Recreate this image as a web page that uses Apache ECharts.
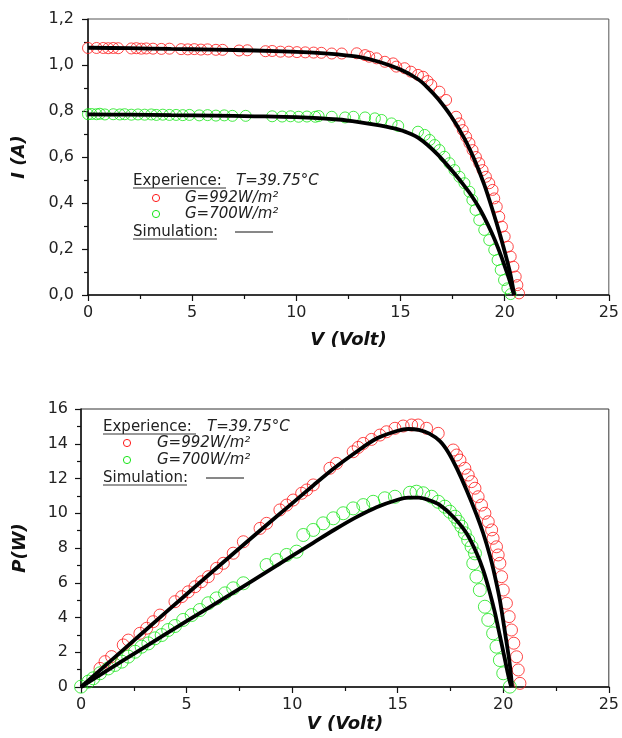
<!DOCTYPE html>
<html>
<head>
<meta charset="utf-8">
<script src="https://cdn.jsdelivr.net/npm/echarts@6/dist/echarts.min.js"></script>
<style>
html,body{margin:0;padding:0;background:#fff;}
#c{width:622px;height:738px;}
</style>
</head>
<body>
<div id="c"></div>
<script>
// ---------- I-V chart data ----------
const xTicks = [0, 5, 10, 15, 20, 25];
const ivSimRedV = [0, 2, 4, 6, 8, 10, 11, 12, 13, 14, 15, 15.84, 16.3, 16.8, 17.43, 18.07, 18.54, 19.02, 19.4, 19.8, 20.1, 20.3, 20.46];
const ivSimRedI = [1.075, 1.073, 1.070, 1.067, 1.063, 1.057, 1.053, 1.046, 1.035, 1.013, 0.980, 0.938, 0.902, 0.853, 0.777, 0.680, 0.590, 0.480, 0.375, 0.255, 0.155, 0.080, 0.0];
const ivSimGreenV = [0, 2, 4, 6, 8, 10, 12, 13, 14, 15, 15.5, 15.84, 16.3, 16.79, 17.2, 17.59, 18.0, 18.38, 18.8, 19.2, 19.55, 19.85, 20.1, 20.3, 20.45];
const ivSimGreenI = [0.785, 0.784, 0.782, 0.780, 0.777, 0.773, 0.763, 0.752, 0.737, 0.717, 0.700, 0.684, 0.652, 0.610, 0.569, 0.528, 0.482, 0.436, 0.375, 0.305, 0.235, 0.165, 0.100, 0.045, 0.0];

const ivExpRedV = [0, 0.41, 0.73, 0.97, 1.21, 1.45, 2.08, 2.32, 2.56, 2.80, 3.12, 3.52, 3.91, 4.47, 4.79, 5.10, 5.42, 5.74, 6.14, 6.46, 7.25, 7.65, 8.52, 8.84, 9.24, 9.64, 10.03, 10.43, 10.83, 11.2, 11.7, 12.18, 12.9, 13.3, 13.5, 13.85, 14.25, 14.65, 14.8, 15.2, 15.5, 15.84, 16.08, 16.3, 16.48, 16.87, 17.19, 17.67, 17.83, 17.99, 18.15, 18.31, 18.46, 18.62, 18.78, 18.94, 19.1, 19.26, 19.42, 19.5, 19.62, 19.74, 19.87, 20.0, 20.15, 20.29, 20.42, 20.53, 20.61, 20.69];
const ivExpRedI = [1.074, 1.074, 1.074, 1.073, 1.074, 1.073, 1.072, 1.073, 1.071, 1.072, 1.071, 1.070, 1.071, 1.069, 1.068, 1.069, 1.067, 1.068, 1.066, 1.066, 1.063, 1.064, 1.060, 1.061, 1.058, 1.058, 1.056, 1.055, 1.054, 1.053, 1.050, 1.050, 1.051, 1.043, 1.036, 1.029, 1.014, 1.007, 0.993, 0.986, 0.971, 0.957, 0.949, 0.930, 0.913, 0.884, 0.848, 0.775, 0.746, 0.717, 0.688, 0.660, 0.630, 0.600, 0.573, 0.543, 0.514, 0.486, 0.457, 0.420, 0.384, 0.340, 0.297, 0.254, 0.210, 0.167, 0.123, 0.080, 0.043, 0.007];
const ivExpGreenV = [0, 0.17, 0.41, 0.57, 0.81, 1.21, 1.53, 1.76, 2.08, 2.40, 2.72, 3.04, 3.28, 3.59, 3.91, 4.23, 4.55, 4.87, 5.34, 5.74, 6.14, 6.54, 6.93, 7.57, 8.84, 9.32, 9.72, 10.11, 10.51, 10.91, 11.07, 11.7, 12.34, 12.74, 13.3, 13.77, 14.09, 14.57, 14.89, 15.84, 16.16, 16.4, 16.64, 16.87, 17.11, 17.35, 17.59, 17.83, 18.07, 18.31, 18.45, 18.6, 18.78, 19.02, 19.26, 19.5, 19.66, 19.81, 19.97, 20.13, 20.29];
const ivExpGreenI = [0.786, 0.787, 0.786, 0.788, 0.785, 0.786, 0.785, 0.786, 0.784, 0.785, 0.784, 0.785, 0.783, 0.784, 0.783, 0.783, 0.782, 0.783, 0.781, 0.782, 0.780, 0.781, 0.779, 0.779, 0.777, 0.776, 0.777, 0.775, 0.776, 0.775, 0.778, 0.775, 0.772, 0.775, 0.772, 0.768, 0.761, 0.746, 0.735, 0.710, 0.696, 0.674, 0.652, 0.630, 0.601, 0.573, 0.543, 0.514, 0.486, 0.449, 0.413, 0.370, 0.326, 0.283, 0.239, 0.196, 0.152, 0.109, 0.065, 0.029, 0.004];

// ---------- P-V chart data ----------
const pvSimRedV = [0, 2, 4, 6, 8, 10, 11, 12, 13, 14, 15, 15.5, 16, 16.5, 17.0, 17.4, 17.8, 18.26, 18.74, 19.05, 19.37, 19.6, 19.84, 20.1, 20.3, 20.42];
const pvSimRedP = [0, 2.14, 4.28, 6.40, 8.50, 10.57, 11.6, 12.6, 13.5, 14.3, 14.75, 14.85, 14.8, 14.58, 14.15, 13.5, 12.58, 11.34, 9.9, 8.85, 7.55, 6.4, 5.0, 3.0, 1.4, 0];
const pvSimGreenV = [0, 2, 4, 6, 8, 10, 11, 12, 13, 14, 15, 15.5, 16, 16.5, 17.0, 17.63, 18.26, 18.74, 19.05, 19.35, 19.6, 19.84, 20.05, 20.25, 20.38];
const pvSimGreenP = [0, 1.53, 3.04, 4.53, 6.02, 7.55, 8.3, 9.05, 9.75, 10.35, 10.78, 10.9, 10.9, 10.75, 10.47, 9.8, 8.85, 7.7, 6.73, 5.5, 4.3, 2.95, 1.75, 0.6, 0];

const pvExpRedV = [0.90, 1.14, 1.45, 2.0, 2.24, 2.79, 3.11, 3.42, 3.74, 4.45, 4.77, 5.08, 5.40, 5.71, 6.03, 6.42, 6.74, 7.21, 7.69, 8.48, 8.79, 9.42, 9.74, 10.05, 10.45, 10.69, 11.0, 11.79, 12.1, 12.89, 13.13, 13.37, 13.76, 14.16, 14.47, 14.87, 15.26, 15.66, 15.97, 16.37, 16.92, 17.63, 17.79, 17.95, 18.18, 18.34, 18.5, 18.66, 18.81, 18.97, 19.13, 19.29, 19.45, 19.52, 19.68, 19.76, 19.84, 19.92, 20.0, 20.15, 20.28, 20.39, 20.5, 20.63, 20.71, 20.79];
const pvExpRedP = [1.07, 1.46, 1.75, 2.42, 2.70, 3.09, 3.38, 3.76, 4.14, 4.91, 5.20, 5.48, 5.77, 6.06, 6.35, 6.83, 7.12, 7.70, 8.36, 9.13, 9.42, 10.19, 10.47, 10.76, 11.15, 11.34, 11.63, 12.59, 12.87, 13.54, 13.79, 14.02, 14.25, 14.5, 14.69, 14.89, 15.02, 15.08, 15.08, 14.89, 14.6, 13.64, 13.35, 13.06, 12.59, 12.2, 11.82, 11.44, 10.95, 10.47, 10.0, 9.51, 9.04, 8.56, 8.07, 7.6, 7.12, 6.35, 5.58, 4.82, 4.05, 3.28, 2.52, 1.74, 0.98, 0.21];
const pvExpGreenV = [0, 0.35, 0.58, 0.9, 1.29, 1.61, 1.93, 2.24, 2.56, 2.87, 3.19, 3.5, 3.82, 4.13, 4.45, 4.84, 5.24, 5.63, 6.03, 6.42, 6.82, 7.21, 7.69, 8.79, 9.26, 9.74, 10.21, 10.53, 11.0, 11.47, 11.95, 12.42, 12.89, 13.37, 13.84, 14.39, 14.87, 15.58, 15.89, 16.21, 16.6, 16.92, 17.23, 17.47, 17.71, 17.87, 18.02, 18.18, 18.34, 18.5, 18.66, 18.58, 18.73, 18.89, 19.13, 19.29, 19.52, 19.68, 19.84, 20.0, 20.31];
const pvExpGreenP = [0.02, 0.31, 0.5, 0.79, 1.07, 1.27, 1.46, 1.75, 2.03, 2.32, 2.51, 2.8, 2.99, 3.28, 3.51, 3.86, 4.14, 4.43, 4.82, 5.1, 5.39, 5.68, 5.97, 7.02, 7.31, 7.6, 7.79, 8.75, 9.04, 9.42, 9.71, 10.0, 10.28, 10.47, 10.66, 10.86, 10.95, 11.18, 11.24, 11.15, 10.95, 10.66, 10.38, 10.09, 9.8, 9.51, 9.23, 8.85, 8.46, 8.07, 7.69, 7.12, 6.35, 5.58, 4.62, 3.86, 3.09, 2.32, 1.55, 0.79, 0.02];

// ---------- legend texts ----------
const legendTitle = 'Experience:';
const legendTemp = 'T=39.75°C';
const legendRed = 'G=992W/m²';
const legendGreen = 'G=700W/m²';
const legendSim = 'Simulation:';

const pairs = (xs, ys) => xs.map((x, i) => [x, ys[i]]);
const FONT = 'DejaVu Sans';
const RED = '#ff1a1a';
const GREEN = '#19e619';

function xAxisCfg(gridIndex, labelMargin, nameGap) {
  return {
    gridIndex, type: 'value', min: 0, max: 25, interval: 5,
    name: 'V (Volt)', nameLocation: 'middle', nameGap,
    nameTextStyle: { fontFamily: FONT, fontWeight: 'bold', fontStyle: 'italic', fontSize: 18, color: '#111' },
    axisLine: { show: true, onZero: false, lineStyle: { color: '#111', width: 1.5 } },
    axisTick: { show: true, inside: false, length: 6, lineStyle: { color: '#111', width: 1.2 } },
    minorTick: { show: true, splitNumber: 2, length: 4, lineStyle: { color: '#111', width: 1.2 } },
    splitLine: { show: false },
    axisLabel: { fontFamily: FONT, fontSize: 16, color: '#222', margin: labelMargin,
      formatter: v => xTicks.includes(v) ? String(v) : '' }
  };
}
function yAxisCfg(gridIndex, max, interval, name, nameGap, labelMargin, fmt) {
  return {
    gridIndex, type: 'value', min: 0, max, interval,
    name, nameLocation: 'middle', nameGap, nameRotate: 90,
    nameTextStyle: { fontFamily: FONT, fontWeight: 'bold', fontStyle: 'italic', fontSize: 18, color: '#111' },
    axisLine: { show: true, onZero: false, lineStyle: { color: '#111', width: 1.5 } },
    axisTick: { show: true, inside: false, length: 6, lineStyle: { color: '#111', width: 1.2 } },
    minorTick: { show: true, splitNumber: 2, length: 4, lineStyle: { color: '#111', width: 1.2 } },
    splitLine: { show: false },
    axisLabel: { fontFamily: FONT, fontSize: 16, color: '#222', margin: labelMargin, formatter: fmt }
  };
}

function scatter(xi, yi, data, color, size) {
  return { type: 'scatter', xAxisIndex: xi, yAxisIndex: yi, data, symbol: 'circle', symbolSize: size,
    itemStyle: { color: 'rgba(0,0,0,0)', borderColor: color, borderWidth: 1 }, z: 2, silent: true };
}
function simLine(xi, yi, data) {
  return { type: 'line', xAxisIndex: xi, yAxisIndex: yi, data, showSymbol: false, smooth: 0.3,
    lineStyle: { color: '#000', width: 3.8 }, z: 5, silent: true };
}

function legendGraphics(x0, yTitle, yRed, yGreen, ySim, circleX, gX, tempX, lineX1, lineX2) {
  const tStyle = (text, x, y, italic) => ({ type: 'text', x, y, silent: true,
    style: { text, fontFamily: FONT, fontSize: 15, fontStyle: italic ? 'italic' : 'normal', fill: '#222', verticalAlign: 'middle', align: 'left' } });
  return [
    tStyle(legendTitle, x0, yTitle, false),
    { type: 'line', silent: true, shape: { x1: x0, y1: yTitle + 7, x2: x0 + 93, y2: yTitle + 7 }, style: { stroke: '#333', lineWidth: 1 } },
    tStyle(legendTemp, tempX, yTitle, true),
    { type: 'circle', silent: true, shape: { cx: circleX, cy: yRed, r: 3.6 }, style: { fill: 'none', stroke: RED, lineWidth: 1 } },
    tStyle(legendRed, gX, yRed, true),
    { type: 'circle', silent: true, shape: { cx: circleX, cy: yGreen, r: 3.6 }, style: { fill: 'none', stroke: GREEN, lineWidth: 1 } },
    tStyle(legendGreen, gX, yGreen, true),
    tStyle(legendSim, x0, ySim, false),
    { type: 'line', silent: true, shape: { x1: x0, y1: ySim + 7, x2: x0 + 84, y2: ySim + 7 }, style: { stroke: '#333', lineWidth: 1 } },
    { type: 'line', silent: true, shape: { x1: lineX1, y1: ySim, x2: lineX2, y2: ySim }, style: { stroke: '#111', lineWidth: 1 } }
  ];
}

const chart = echarts.init(document.getElementById('c'), null, { renderer: 'canvas' });
chart.setOption({
  animation: false,
  backgroundColor: '#fff',
  grid: [
    { left: 88, top: 19, width: 524, height: 276, show: true, borderColor: '#555', borderWidth: 1, backgroundColor: 'transparent' },
    { left: 81, top: 409, width: 528, height: 278, show: true, borderColor: '#333', borderWidth: 1, backgroundColor: 'transparent' }
  ],
  xAxis: [xAxisCfg(0, 10, 36), xAxisCfg(1, 10, 28)],
  yAxis: [
    yAxisCfg(0, 1.2, 0.2, 'I (A)', 60, 14, v => v.toFixed(1).replace('.', ',')),
    yAxisCfg(1, 16, 2, 'P(W)', 52, 13, v => String(v))
  ],
  series: [
    scatter(0, 0, pairs(ivExpRedV, ivExpRedI), RED, 11),
    scatter(0, 0, pairs(ivExpGreenV, ivExpGreenI), GREEN, 11),
    simLine(0, 0, pairs(ivSimRedV, ivSimRedI)),
    simLine(0, 0, pairs(ivSimGreenV, ivSimGreenI)),
    scatter(1, 1, pairs(pvExpRedV, pvExpRedP), RED, 12),
    scatter(1, 1, pairs(pvExpGreenV, pvExpGreenP), GREEN, 13),
    simLine(1, 1, pairs(pvSimRedV, pvSimRedP)),
    simLine(1, 1, pairs(pvSimGreenV, pvSimGreenP))
  ],
  graphic: [
    ...legendGraphics(133, 181, 198, 214, 232, 156, 185, 236, 235, 273),
    ...legendGraphics(103, 427, 443, 460, 478, 127, 157, 207, 206, 244)
  ]
});
</script>
</body>
</html>
